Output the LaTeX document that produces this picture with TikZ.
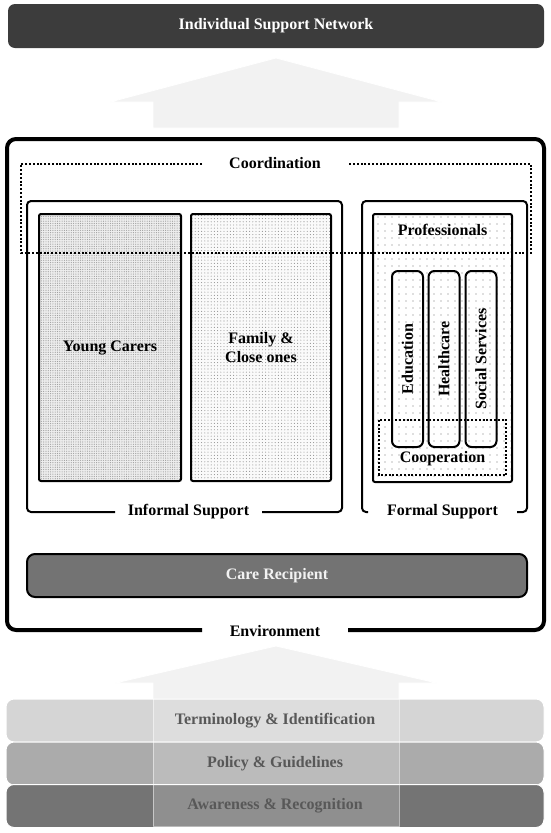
\documentclass[tikz,border=0pt]{standalone}
\usepackage{fontspec}
\setmainfont{Liberation Serif}
\usetikzlibrary{patterns.meta}
\definecolor{barfill}{HTML}{3C3C3C}
\definecolor{arrowfill}{HTML}{F2F2F2}
\definecolor{carefill}{HTML}{737373}
\definecolor{lone}{HTML}{D5D5D5}
\definecolor{ltwo}{HTML}{ABABAB}
\definecolor{lthree}{HTML}{747474}
\definecolor{layertext}{HTML}{585858}
\begin{document}
\begin{tikzpicture}[x=1pt,y=-1pt,
  every node/.style={font=\fontsize{16}{19}\selectfont\bfseries, inner sep=0pt, outer sep=0pt},
  lbl/.style={fill=none},
  thinbox/.style={line width=2pt, rounded corners=4pt},
  dotline/.style={line width=2.2pt, dash pattern=on 2pt off 1.8pt},
  patbox/.style={draw, line width=2pt, rounded corners=2pt, align=center},
  pillar/.style={draw, line width=2pt, rounded corners=6pt, rotate=90, minimum width=176pt, minimum height=31pt},
  layer/.style={draw=white, line width=1pt, rounded corners=8pt, minimum width=538pt, minimum height=43pt},
  bigarrow/.style={fill=arrowfill, draw=white, line width=0.8pt}
]
\useasboundingbox (0,0) rectangle (550,833);

% top bar
\node[fill=barfill, rounded corners=7pt, minimum width=536pt, minimum height=44pt, text=white] (isn) at (276,26) {Individual Support Network};

% top arrow
\draw[bigarrow] (276,58) -- (442,102) -- (399,102) -- (399,128) -- (153,128) -- (153,102) -- (110,102) -- cycle;

% environment frame
\draw[line width=4pt, rounded corners=9pt] (202,630) -- (7,630) -- (7,139) -- (544,139) -- (544,630) -- (348,630);
\node[lbl] (env) at (275,631) {Environment};

% informal and formal support frames
\draw[thinbox] (115,512) -- (27,512) -- (27,201) -- (342,201) -- (342,512) -- (262,512);
\node[lbl] (inf) at (188.5,512) {Informal Support};
\draw[thinbox] (368,512) -- (362,512) -- (362,201) -- (527,201) -- (527,512) -- (517,512);
\node[lbl] (form) at (442.5,512) {Formal Support};

% informal boxes
\node[patbox, preaction={fill=black!7}, pattern={Dots[radius=0.6pt,distance=2.3pt]}, pattern color=black!38,
  minimum width=142pt, minimum height=267pt] (yc) at (110,347.5) {Young Carers};
\node[patbox, preaction={fill=black!2}, pattern={Dots[radius=0.55pt,distance=3.2pt]}, pattern color=black!42,
  minimum width=140pt, minimum height=267pt] (fam) at (261,347.5) {Family \&\\Close ones};

% professionals
\node[patbox, pattern={Dots[radius=0.6pt,distance=7pt]}, pattern color=black!55,
  minimum width=139pt, minimum height=268pt] (prof) at (442.5,348) {};
\node[lbl] (proflbl) at (442.5,230) {Professionals};

% pillars
\node[pillar] (edu) at (407.5,359) {Education};
\node[pillar] (health) at (444,359) {Healthcare};
\node[pillar] (social) at (481,359) {Social Services};

% cooperation
\draw[dotline] (379,420) rectangle (506,475);
\node[lbl] (coop) at (442.5,459) {Cooperation};

% coordination
\draw[dotline] (202,164) -- (21,164) -- (21,253) -- (531,253) -- (531,164) -- (348,164);
\node[lbl] (coord) at (275,163) {Coordination};

% care recipient
\node[fill=carefill, draw, line width=2pt, rounded corners=8pt, minimum width=500pt, minimum height=43pt, text=black!5] (cr) at (277,575.5) {Care Recipient};

% bottom arrow
\draw[bigarrow] (276,646) -- (437,683) -- (399,683) -- (399,826) -- (153,826) -- (153,683) -- (115,683) -- cycle;

% layers
\node[layer, fill=lone] (l1) at (275,720.5) {};
\node[layer, fill=ltwo] (l2) at (275,763.5) {};
\node[layer, fill=lthree] (l3) at (275,806) {};
\fill[white, fill opacity=0.2] (153,699) rectangle (399,826);
\draw[white, opacity=0.5, line width=0.8pt] (153,699) -- (153,826) -- (399,826) -- (399,699);
\node[text=layertext] (t1) at (l1.center) {Terminology \& Identification};
\node[text=layertext] (t2) at (l2.center) {Policy \& Guidelines};
\node[text=layertext] (t3) at (l3.center) {Awareness \& Recognition};
\end{tikzpicture}
\end{document}
